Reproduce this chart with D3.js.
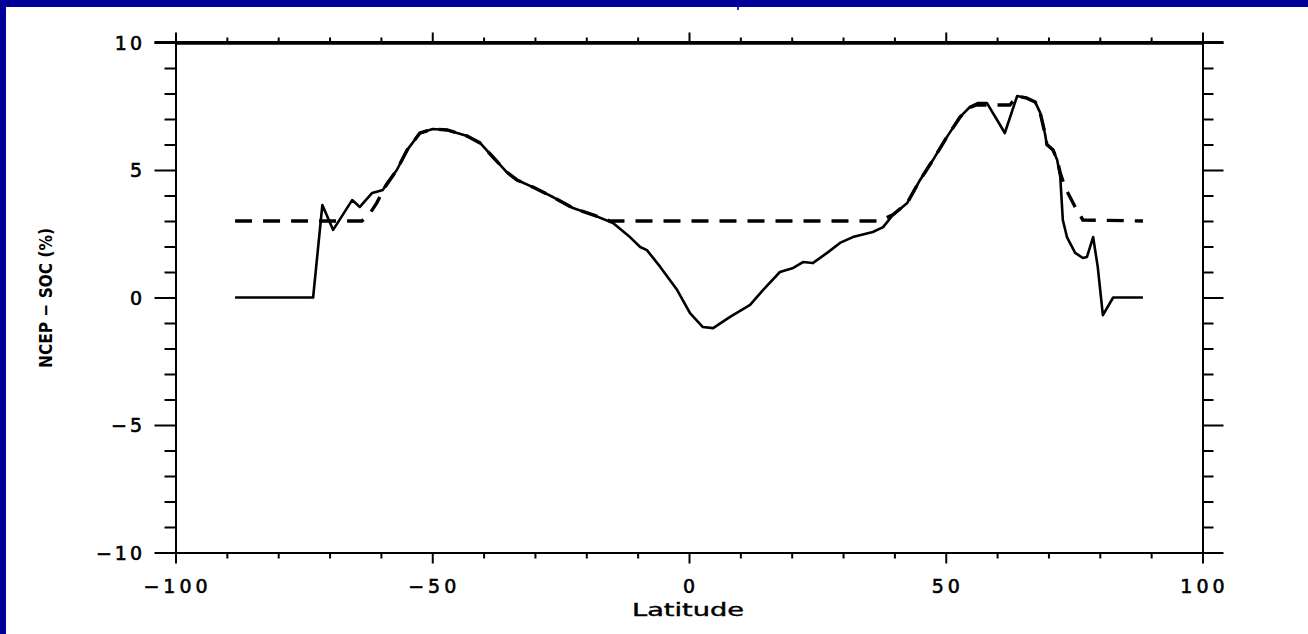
<!DOCTYPE html>
<html>
<head>
<meta charset="utf-8">
<script src="https://cdn.jsdelivr.net/npm/d3@7"></script>
<style>
  html, body { margin: 0; padding: 0; background: #ffffff; overflow: hidden; }
  svg { display: block; }
</style>
</head>
<body>
<svg id="chart" width="1308" height="634"></svg>
<script>
// NCEP - SOC (%) by latitude
var solidLat = [-88.4, -73.2, -71.4, -69.3, -65.6, -64.1, -61.7, -59.6, -58.8, -56.9, -54.9, -52.4, -49.9, -47.1,
  -43.2, -40.7, -38.2, -35.5, -33.5, -30.4, -26.5, -22.6, -18.7, -14.8, -11.5, -9.5, -8.2, -5.6, -2.3, 0.2,
  2.7, 4.7, 8.0, 11.9, 14.4, 17.7, 20.3, 22.2, 24.1, 26.9, 29.4, 31.9, 35.8, 37.8, 39.7, 42.5, 45.0, 47.5,
  50.2, 52.8, 54.7, 56.3, 58.0, 60.0, 61.5, 63.9, 65.8, 67.4, 68.4, 69.3, 69.7, 70.9, 71.7, 72.3, 72.8,
  73.6, 75.2, 76.7, 77.5, 78.7, 79.6, 80.6, 82.6, 88.4];
var solidVal = [0, 0, 3.63, 2.65, 3.82, 3.55, 4.10, 4.22, 4.49, 5.0, 5.78, 6.45, 6.61, 6.57,
  6.33, 6.06, 5.51, 4.92, 4.61, 4.33, 3.94, 3.51, 3.24, 2.92, 2.37, 1.98, 1.86, 1.20, 0.29, -0.61,
  -1.16, -1.20, -0.76, -0.29, 0.29, 1.0, 1.16, 1.39, 1.35, 1.75, 2.14, 2.37, 2.57, 2.76, 3.24, 3.71, 4.61, 5.39,
  6.29, 7.08, 7.47, 7.63, 7.63, 6.96, 6.45, 7.90, 7.82, 7.67, 7.24, 6.45, 5.98, 5.78, 5.39, 4.73, 3.04,
  2.37, 1.75, 1.55, 1.59, 2.37, 1.20, -0.69, 0, 0];

var dashLat = [-88.4, -63.7, -62.1, -60.8, -59.2, -56.9, -54.9, -52.4, -49.9, -47.1, -43.2, -40.7, -38.2,
  -35.5, -33.5, -30.4, -26.5, -22.6, -18.7, -15.4, 37.0, 39.7, 42.5, 45.0, 47.5, 50.2, 52.8, 54.7, 56.0,
  62.5, 63.9, 65.8, 67.4, 68.4, 69.3, 69.7, 70.9, 71.7, 72.3, 73.2, 75.2, 76.7, 88.4];
var dashVal = [3, 3, 3.31, 3.71, 4.33, 5.0, 5.78, 6.45, 6.61, 6.57, 6.33, 6.06, 5.51,
  4.92, 4.61, 4.33, 3.94, 3.51, 3.24, 3.0, 3.0, 3.24, 3.71, 4.61, 5.39, 6.29, 7.08, 7.45, 7.55,
  7.55, 7.90, 7.82, 7.67, 7.24, 6.45, 6.0, 5.78, 5.39, 4.88, 4.33, 3.55, 3.04, 3.0];

var xMajor = [-100, -50, 0, 50, 100];
var xMinor = [-90, -80, -70, -60, -40, -30, -20, -10, 10, 20, 30, 40, 60, 70, 80, 90];
var yMajor = [-10, -5, 0, 5, 10];
var yMinor = [-9, -8, -7, -6, -4, -3, -2, -1, 1, 2, 3, 4, 6, 7, 8, 9];

var svg = d3.select("#chart");

// white slide, blue strip on top and left only
svg.append("rect").attr("x", 0).attr("y", 0).attr("width", 1308).attr("height", 634).attr("fill", "#ffffff");
svg.append("rect").attr("x", 0).attr("y", 0).attr("width", 1308).attr("height", 7).attr("fill", "#000099");
svg.append("rect").attr("x", 0).attr("y", 0).attr("width", 6).attr("height", 634).attr("fill", "#000099");
svg.append("rect").attr("x", 737).attr("y", 7).attr("width", 2).attr("height", 3).attr("fill", "#3333aa");

var x = d3.scaleLinear().domain([-100, 100]).range([175.5, 1202.5]);
var y = d3.scaleLinear().domain([-10, 10]).range([552.5, 42.5]);

function styleAxis(g, w) {
  g.selectAll("path").attr("stroke", "#000").attr("stroke-width", w);
  g.selectAll("line").attr("stroke", "#000").attr("stroke-width", 2);
  g.selectAll("text").remove();
}

// left
svg.append("g").attr("transform", "translate(" + x(-100) + ",0)")
  .call(d3.axisLeft(y).tickValues(yMinor).tickSize(11).tickSizeOuter(0).tickFormat(""))
  .call(styleAxis, 2);
svg.append("g").attr("transform", "translate(" + x(-100) + ",0)")
  .call(d3.axisLeft(y).tickValues(yMajor).tickSize(21).tickSizeOuter(0).tickFormat(""))
  .call(styleAxis, 2);
// right
svg.append("g").attr("transform", "translate(" + x(100) + ",0)")
  .call(d3.axisRight(y).tickValues(yMinor).tickSize(11).tickSizeOuter(0).tickFormat(""))
  .call(styleAxis, 2);
svg.append("g").attr("transform", "translate(" + x(100) + ",0)")
  .call(d3.axisRight(y).tickValues(yMajor).tickSize(21).tickSizeOuter(0).tickFormat(""))
  .call(styleAxis, 2);
// bottom
svg.append("g").attr("transform", "translate(0," + y(-10) + ")")
  .call(d3.axisBottom(x).tickValues(xMinor).tickSize(6).tickSizeOuter(0).tickFormat(""))
  .call(styleAxis, 2);
svg.append("g").attr("transform", "translate(0," + y(-10) + ")")
  .call(d3.axisBottom(x).tickValues(xMajor).tickSize(11).tickSizeOuter(0).tickFormat(""))
  .call(styleAxis, 2);
// top
svg.append("g").attr("transform", "translate(0," + y(10) + ")")
  .call(d3.axisTop(x).tickValues(xMinor).tickSize(5).tickSizeOuter(0).tickFormat(""))
  .call(styleAxis, 3);
svg.append("g").attr("transform", "translate(0," + y(10) + ")")
  .call(d3.axisTop(x).tickValues(xMajor).tickSize(10).tickSizeOuter(0).tickFormat(""))
  .call(styleAxis, 3);
// thick line along the top edge
svg.append("line").attr("x1", x(-100) - 21).attr("x2", x(100) + 21)
  .attr("y1", y(10)).attr("y2", y(10)).attr("stroke", "#000").attr("stroke-width", 3);

var fontFam = "'DejaVu Sans', sans-serif";
function fmt(d) { return d < 0 ? "\u2212" + Math.abs(d) : String(d); }

svg.append("g").selectAll("text").data(yMajor).join("text")
  .attr("x", 145).attr("y", function(d) { return y(d) + 7; })
  .attr("text-anchor", "end")
  .attr("font-family", fontFam).attr("font-size", 19).attr("letter-spacing", 3)
  .attr("stroke", "#000").attr("stroke-width", 0.6)
  .text(fmt);

svg.append("g").selectAll("text").data(xMajor).join("text")
  .attr("x", function(d) { return x(d) + 2; }).attr("y", 593)
  .attr("text-anchor", "middle")
  .attr("font-family", fontFam).attr("font-size", 19).attr("letter-spacing", 4)
  .attr("stroke", "#000").attr("stroke-width", 0.6)
  .text(fmt);

svg.append("text").attr("x", 688).attr("y", 616).attr("text-anchor", "middle")
  .attr("font-family", fontFam).attr("font-size", 17)
  .attr("stroke", "#000").attr("stroke-width", 0.4)
  .attr("textLength", 112).attr("lengthAdjust", "spacingAndGlyphs")
  .text("Latitude");

svg.append("text").attr("transform", "translate(52,298) rotate(-90)").attr("text-anchor", "middle")
  .attr("font-family", fontFam).attr("font-size", 18).attr("font-weight", "bold")
  .attr("textLength", 140).attr("lengthAdjust", "spacingAndGlyphs")
  .text("NCEP \u2212 SOC (%)");

var line = d3.line().x(function(d) { return x(d[0]); }).y(function(d) { return y(d[1]); });

svg.append("path").datum(d3.zip(dashLat, dashVal))
  .attr("d", line).attr("fill", "none").attr("stroke", "#000")
  .attr("stroke-width", 3.4).attr("stroke-dasharray", "17,11");

svg.append("path").datum(d3.zip(solidLat, solidVal))
  .attr("d", line).attr("fill", "none").attr("stroke", "#000")
  .attr("stroke-width", 2.6).attr("stroke-linejoin", "round");
</script>
</body>
</html>
